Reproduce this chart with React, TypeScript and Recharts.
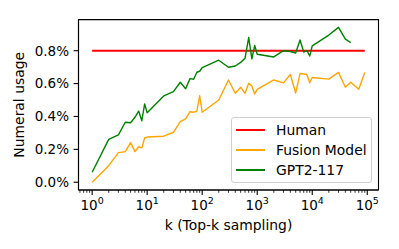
import { LineChart, Line, XAxis, YAxis, Legend, Label, ReferenceArea } from "recharts";

// k values (top-k)
const gptK = [
  1, 2, 3, 4, 5, 6, 7, 8, 9, 10, 20, 30, 40, 50, 60, 70, 80, 90, 100, 200, 300, 400, 500, 600, 700, 800, 900, 1000,
  2000, 3000, 4000, 5000, 6000, 7000, 8000, 9000, 10000, 20000, 30000, 40000, 50000,
];
const gptUsage = [
  0.061, 0.261, 0.288, 0.365, 0.362, 0.395, 0.433, 0.374, 0.476, 0.423, 0.525, 0.551, 0.608, 0.569, 0.63, 0.626, 0.669,
  0.675, 0.697, 0.742, 0.699, 0.707, 0.729, 0.754, 0.88, 0.75, 0.832, 0.778, 0.762, 0.8, 0.795, 0.786, 0.865, 0.792,
  0.801, 0.768, 0.829, 0.895, 0.942, 0.87, 0.849,
];
const fusionK = [...gptK, 70000, 90000];
const fusionUsage = [
  0.0, 0.101, 0.18, 0.186, 0.241, 0.186, 0.216, 0.209, 0.269, 0.275, 0.28, 0.304, 0.368, 0.385, 0.429, 0.426, 0.432,
  0.526, 0.426, 0.5, 0.622, 0.541, 0.578, 0.541, 0.602, 0.585, 0.537, 0.565, 0.622, 0.604, 0.655, 0.543, 0.661, 0.658,
  0.655, 0.605, 0.637, 0.627, 0.668, 0.578, 0.608, 0.565, 0.667,
];
const humanK = [1, 90000];
const humanUsage = [0.8, 0.8];

const xMajorTicks = [1, 10, 100, 1000, 10000, 100000];
const xLeadMinor = [0.6, 0.7, 0.8, 0.9];
const yTicks = [0, 0.2, 0.4, 0.6, 0.8];

const seriesNames = ["Human", "Fusion Model", "GPT2-117"];
const seriesColors = ["#ff0000", "#ffa500", "#008000"];
const seriesWidths = [2.1, 1.4, 1.4];

const X_DOMAIN = [0.565, 160000];
const Y_DOMAIN = [-0.0471, 0.9891];
const FONT = "'DejaVu Sans', sans-serif";

const toRows = (ks: number[], vs: number[]) => ks.map((k, i) => ({ k, v: vs[i] }));
const humanData = toRows(humanK, humanUsage);
const fusionData = toRows(fusionK, fusionUsage);
const gptData = toRows(gptK, gptUsage);

const xMinor = xMajorTicks
  .flatMap((m) => [2, 3, 4, 5, 6, 7, 8, 9].map((d) => d * m))
  .filter((v) => v < X_DOMAIN[1]);
const xTicks = [...xLeadMinor, ...xMajorTicks, ...xMinor].sort((a, b) => a - b);

function XTick({ x, y, payload }: any) {
  const v = payload.value;
  const idx = xMajorTicks.indexOf(v);
  const major = idx >= 0;
  return (
    <g>
      <line x1={x} y1={y} x2={x} y2={y + (major ? 4.9 : 2.8)} stroke="#000" strokeWidth={major ? 1.1 : 0.8} />
      {major && (
        <text x={x} y={y + 20} textAnchor="middle" fontFamily={FONT} fontSize={13.5} fill="#000">
          <tspan>10</tspan>
          <tspan dy={-6} fontSize={9.5}>
            {idx}
          </tspan>
        </text>
      )}
    </g>
  );
}

function YTick({ x, y, payload }: any) {
  return (
    <g>
      <line x1={x} y1={y} x2={x - 4.9} y2={y} stroke="#000" strokeWidth={1.1} />
      <text x={x - 9.5} y={y} dy="0.36em" textAnchor="end" fontFamily={FONT} fontSize={13.5} fill="#000">
        {payload.value.toFixed(1)}%
      </text>
    </g>
  );
}

function YLabel(props: any) {
  const vb = props.viewBox || { y: 19.6, height: 170.4 };
  const cy = vb.y + vb.height / 2;
  return (
    <text
      x={24.5}
      y={cy}
      transform={`rotate(-90 24.5 ${cy})`}
      textAnchor="middle"
      fontFamily={FONT}
      fontSize={13.9}
      fill="#000"
    >
      Numeral usage
    </text>
  );
}

function LegendBox() {
  return (
    <div
      style={{
        width: 141,
        height: 66,
        boxSizing: "border-box",
        border: "1px solid #d0d0d0",
        borderRadius: 3,
        background: "rgba(255,255,255,0.8)",
        paddingTop: 2,
        fontFamily: FONT,
        fontSize: 13.9,
      }}
    >
      {seriesNames.map((name, i) => (
        <div key={name} style={{ display: "flex", alignItems: "center", height: 20 }}>
          <div
            style={{
              marginLeft: 4,
              width: 29,
              height: seriesWidths[i],
              background: seriesColors[i],
            }}
          />
          <span style={{ marginLeft: 11, color: "#000", lineHeight: "20px" }}>{name}</span>
        </div>
      ))}
    </div>
  );
}

export default function App() {
  return (
    <div style={{ position: "absolute", left: 0, top: 0, width: 399, height: 249, background: "#fff" }}>
      <LineChart width={399} height={249} margin={{ top: 19.6, right: 20.5, left: 0, bottom: 0 }}>
        <XAxis
          dataKey="k"
          type="number"
          scale="log"
          domain={X_DOMAIN}
          allowDataOverflow
          ticks={xTicks}
          interval={0}
          tickSize={0}
          tickMargin={0}
          tickLine={false}
          tick={<XTick />}
          axisLine={{ stroke: "#000", strokeWidth: 1.1 }}
          height={59}
        >
          <Label
            value="k (Top-k sampling)"
            position="insideBottom"
            offset={19}
            style={{ fontFamily: FONT, fontSize: 13.9, fill: "#000" }}
          />
        </XAxis>
        <YAxis
          type="number"
          domain={Y_DOMAIN}
          allowDataOverflow
          ticks={yTicks}
          interval={0}
          tickSize={0}
          tickMargin={0}
          tickLine={false}
          tick={<YTick />}
          axisLine={{ stroke: "#000", strokeWidth: 1.1 }}
          width={78.5}
        >
          <Label content={(p: any) => <YLabel {...p} />} />
        </YAxis>
        <ReferenceArea
          x1={X_DOMAIN[0]}
          x2={X_DOMAIN[1]}
          y1={Y_DOMAIN[0]}
          y2={Y_DOMAIN[1]}
          fill="none"
          stroke="#000"
          strokeWidth={1.1}
          ifOverflow="visible"
        />
        <Line
          data={humanData}
          dataKey="v"
          name={seriesNames[0]}
          stroke={seriesColors[0]}
          strokeWidth={seriesWidths[0]}
          dot={false}
          activeDot={false}
          isAnimationActive={false}
        />
        <Line
          data={fusionData}
          dataKey="v"
          name={seriesNames[1]}
          stroke={seriesColors[1]}
          strokeWidth={seriesWidths[1]}
          strokeLinejoin="round"
          dot={false}
          activeDot={false}
          isAnimationActive={false}
        />
        <Line
          data={gptData}
          dataKey="v"
          name={seriesNames[2]}
          stroke={seriesColors[2]}
          strokeWidth={seriesWidths[2]}
          strokeLinejoin="round"
          dot={false}
          activeDot={false}
          isAnimationActive={false}
        />
        <Legend
          layout="vertical"
          align="center"
          verticalAlign="middle"
          wrapperStyle={{ left: 231, top: 117, width: 141, height: 66 }}
          content={() => <LegendBox />}
        />
      </LineChart>
    </div>
  );
}
